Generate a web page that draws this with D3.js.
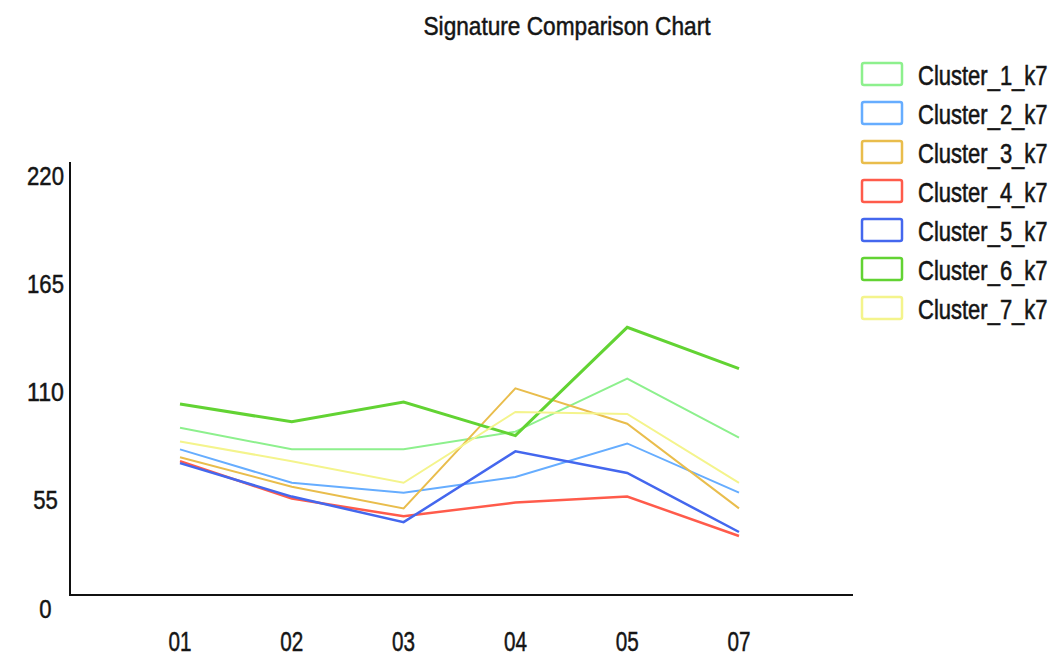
<!DOCTYPE html>
<html><head><meta charset="utf-8">
<script src="https://cdn.jsdelivr.net/npm/d3@7"></script>
<style>html,body{margin:0;padding:0;background:#fff;} svg{display:block;}</style>
</head><body>
<svg id="chart" width="1060" height="656"></svg>
<script>
const title = "Signature Comparison Chart";
const categories = ["01","02","03","04","05","07"];
const yTicks = [0,55,110,165,220];
const seriesNames = ["Cluster_1_k7","Cluster_2_k7","Cluster_3_k7","Cluster_4_k7","Cluster_5_k7","Cluster_6_k7","Cluster_7_k7"];
const cluster1 = [85, 74, 74, 83, 110, 80];
const cluster2 = [74, 57, 52, 60, 77, 52];
const cluster3 = [70, 55, 44, 105, 87, 44];
const cluster4 = [68, 49, 40, 47, 50, 30];
const cluster5 = [67, 50, 37, 73, 62, 32];
const cluster6 = [97, 88, 98, 81, 136, 115];
const cluster7 = [78, 68, 57, 93, 92, 57];
const seriesValues = [cluster1, cluster2, cluster3, cluster4, cluster5, cluster6, cluster7];
const colors = ["#8df08d","#66adff","#e9bd4c","#ff5b4b","#4467ee","#62d333","#f4f48c"];
const widths = [2, 2, 2, 2.5, 2.5, 3, 2];

const svg = d3.select("#chart");
const font = "'Liberation Sans Narrow','Liberation Sans',Arial,sans-serif";
const ink = "#151515";
svg.append("rect").attr("width",1060).attr("height",656).attr("fill","#fff");

const x = d3.scalePoint().domain(categories).range([180, 739]);
const y = d3.scaleLinear().domain([0,220]).range([595,162]);

function styleText(sel){
  return sel.attr("font-family",font).attr("fill",ink)
    .attr("stroke",ink).attr("stroke-width",0.5).attr("lengthAdjust","spacingAndGlyphs");
}

// title
styleText(svg.append("text").attr("x",567).attr("y",35).attr("text-anchor","middle")
  .attr("font-size",26).attr("textLength",287)).text(title);

// axes lines
svg.append("line").attr("x1",70).attr("x2",70).attr("y1",y(220)).attr("y2",y(0))
  .attr("stroke","#111").attr("stroke-width",2);
svg.append("line").attr("x1",69).attr("x2",853).attr("y1",y(0)).attr("y2",y(0))
  .attr("stroke","#111").attr("stroke-width",2);

// y tick labels
styleText(svg.selectAll("text.ytick").data(yTicks).join("text").attr("class","ytick")
  .attr("x",45.5).attr("y",d=>y(d)+22.5).attr("text-anchor","middle")
  .attr("font-size",26).attr("textLength",d=>String(d).length*12.3)).text(d=>d);

// x tick labels
styleText(svg.selectAll("text.xtick").data(categories).join("text").attr("class","xtick")
  .attr("x",d=>x(d)).attr("y",651).attr("text-anchor","middle")
  .attr("font-size",28).attr("textLength",23)).text(d=>d);

// lines
const line = d3.line().x((d,i)=>x(categories[i])).y(d=>y(d));
seriesValues.forEach((vals,k)=>{
  svg.append("path").datum(vals).attr("d",line).attr("fill","none")
    .attr("stroke",colors[k]).attr("stroke-width",widths[k]).attr("stroke-linejoin","miter");
});

// legend
const lg = svg.append("g");
seriesNames.forEach((name,k)=>{
  const top = 62 + k*39;
  lg.append("rect").attr("x",862).attr("y",top+1).attr("width",40).attr("height",22)
    .attr("rx",2).attr("fill","#fff").attr("stroke",colors[k]).attr("stroke-width",2.5);
  lg.append("text").attr("transform",`translate(918,${top+23}) scale(1,1.25)`)
    .attr("font-family",font).attr("font-size",22).attr("fill",ink)
    .attr("stroke",ink).attr("stroke-width",0.45).text(name);
});
</script>
</body></html>
